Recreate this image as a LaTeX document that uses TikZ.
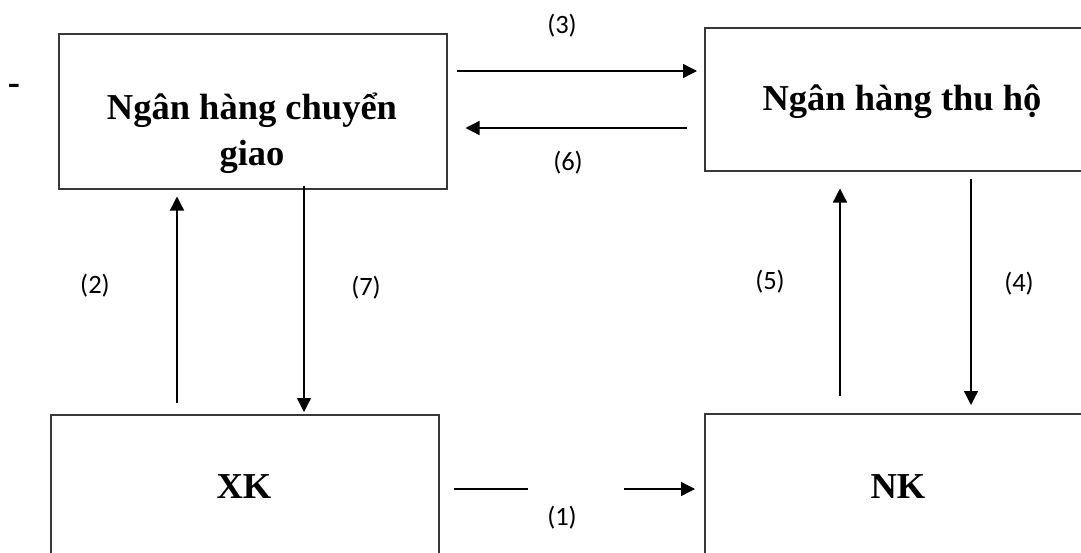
\documentclass[tikz,border=0pt]{standalone}
\usepackage{fontspec}
\setmainfont{Liberation Serif}
\newfontfamily\lblfont{Carlito}
\usetikzlibrary{arrows.meta,calc}

\begin{document}
\begin{tikzpicture}[x=1pt,y=-1pt,
  box/.style={draw=black!78, line width=1.5pt, inner sep=0pt, anchor=north west},
  title/.style={font=\fontsize{36.5}{46}\selectfont\bfseries, inner sep=0pt},
  lbl/.style={font=\lblfont\fontsize{26.5}{30}\selectfont, inner sep=0pt},
  arr/.style={line width=1.3pt, -{Triangle[length=14pt,width=14pt]}},
  seg/.style={line width=1.3pt}
]
\useasboundingbox (0,0) rectangle (1081,552);
\clip (0,0) rectangle (1081,552);

% the four parties
\node[box, minimum width=388pt, minimum height=155pt] (A)  at (58,33)  {};
\node[box, minimum width=406pt, minimum height=143pt] (B)  at (704,27) {};
\node[box, minimum width=388pt, minimum height=160pt] (XK) at (50,414) {};
\node[box, minimum width=388pt, minimum height=160pt] (NK) at (704,413) {};

% box titles
\node[title, anchor=base] (At) at (252,119)
  {\begin{tabular}[t]{@{}c@{}}Ngân hàng chuyển\\giao\end{tabular}};
\node[title, anchor=base] (Bt)  at (902,110) {Ngân hàng thu hộ};
\node[title, anchor=base] (XKt) at (244,498) {XK};
\node[title, anchor=base] (NKt) at (898,498) {NK};

% stray dash at the left margin
\node[title, anchor=base] (dash) at (14,94) {-};

% flows between banks
\draw[arr] ($(A.north east)+(9,38)$)   -- ($(B.north west)+(-7,44)$);
\draw[arr] ($(B.north west)+(-17,101)$) -- ($(A.north east)+(18,95)$);

% exporter side
\draw[arr] ($(XK.north west)+(127,-11)$) -- ($(A.south west)+(119,7)$);
\draw[arr] ($(A.south west)+(246,-4)$)   -- ($(XK.north west)+(254,-2)$);

% importer side
\draw[arr] ($(NK.north west)+(136,-17)$) -- ($(B.south west)+(136,17)$);
\draw[arr] ($(B.south west)+(267,7)$)    -- ($(NK.north west)+(267,-8)$);

% goods flow, broken around its label
\draw[seg] ($(XK.north east)+(14,75)$) -- ($(XK.north east)+(88,75)$);
\draw[arr] ($(NK.north west)+(-80,76)$) -- ($(NK.north west)+(-9,76)$);

% step numbers
\node[lbl] (l1) at (562,518) {(1)};
\node[lbl] (l2) at (95,286)  {(2)};
\node[lbl] (l3) at (562,26)  {(3)};
\node[lbl] (l4) at (1019,284) {(4)};
\node[lbl] (l5) at (770,282) {(5)};
\node[lbl] (l6) at (568,163) {(6)};
\node[lbl] (l7) at (366,288) {(7)};
\end{tikzpicture}
\end{document}
